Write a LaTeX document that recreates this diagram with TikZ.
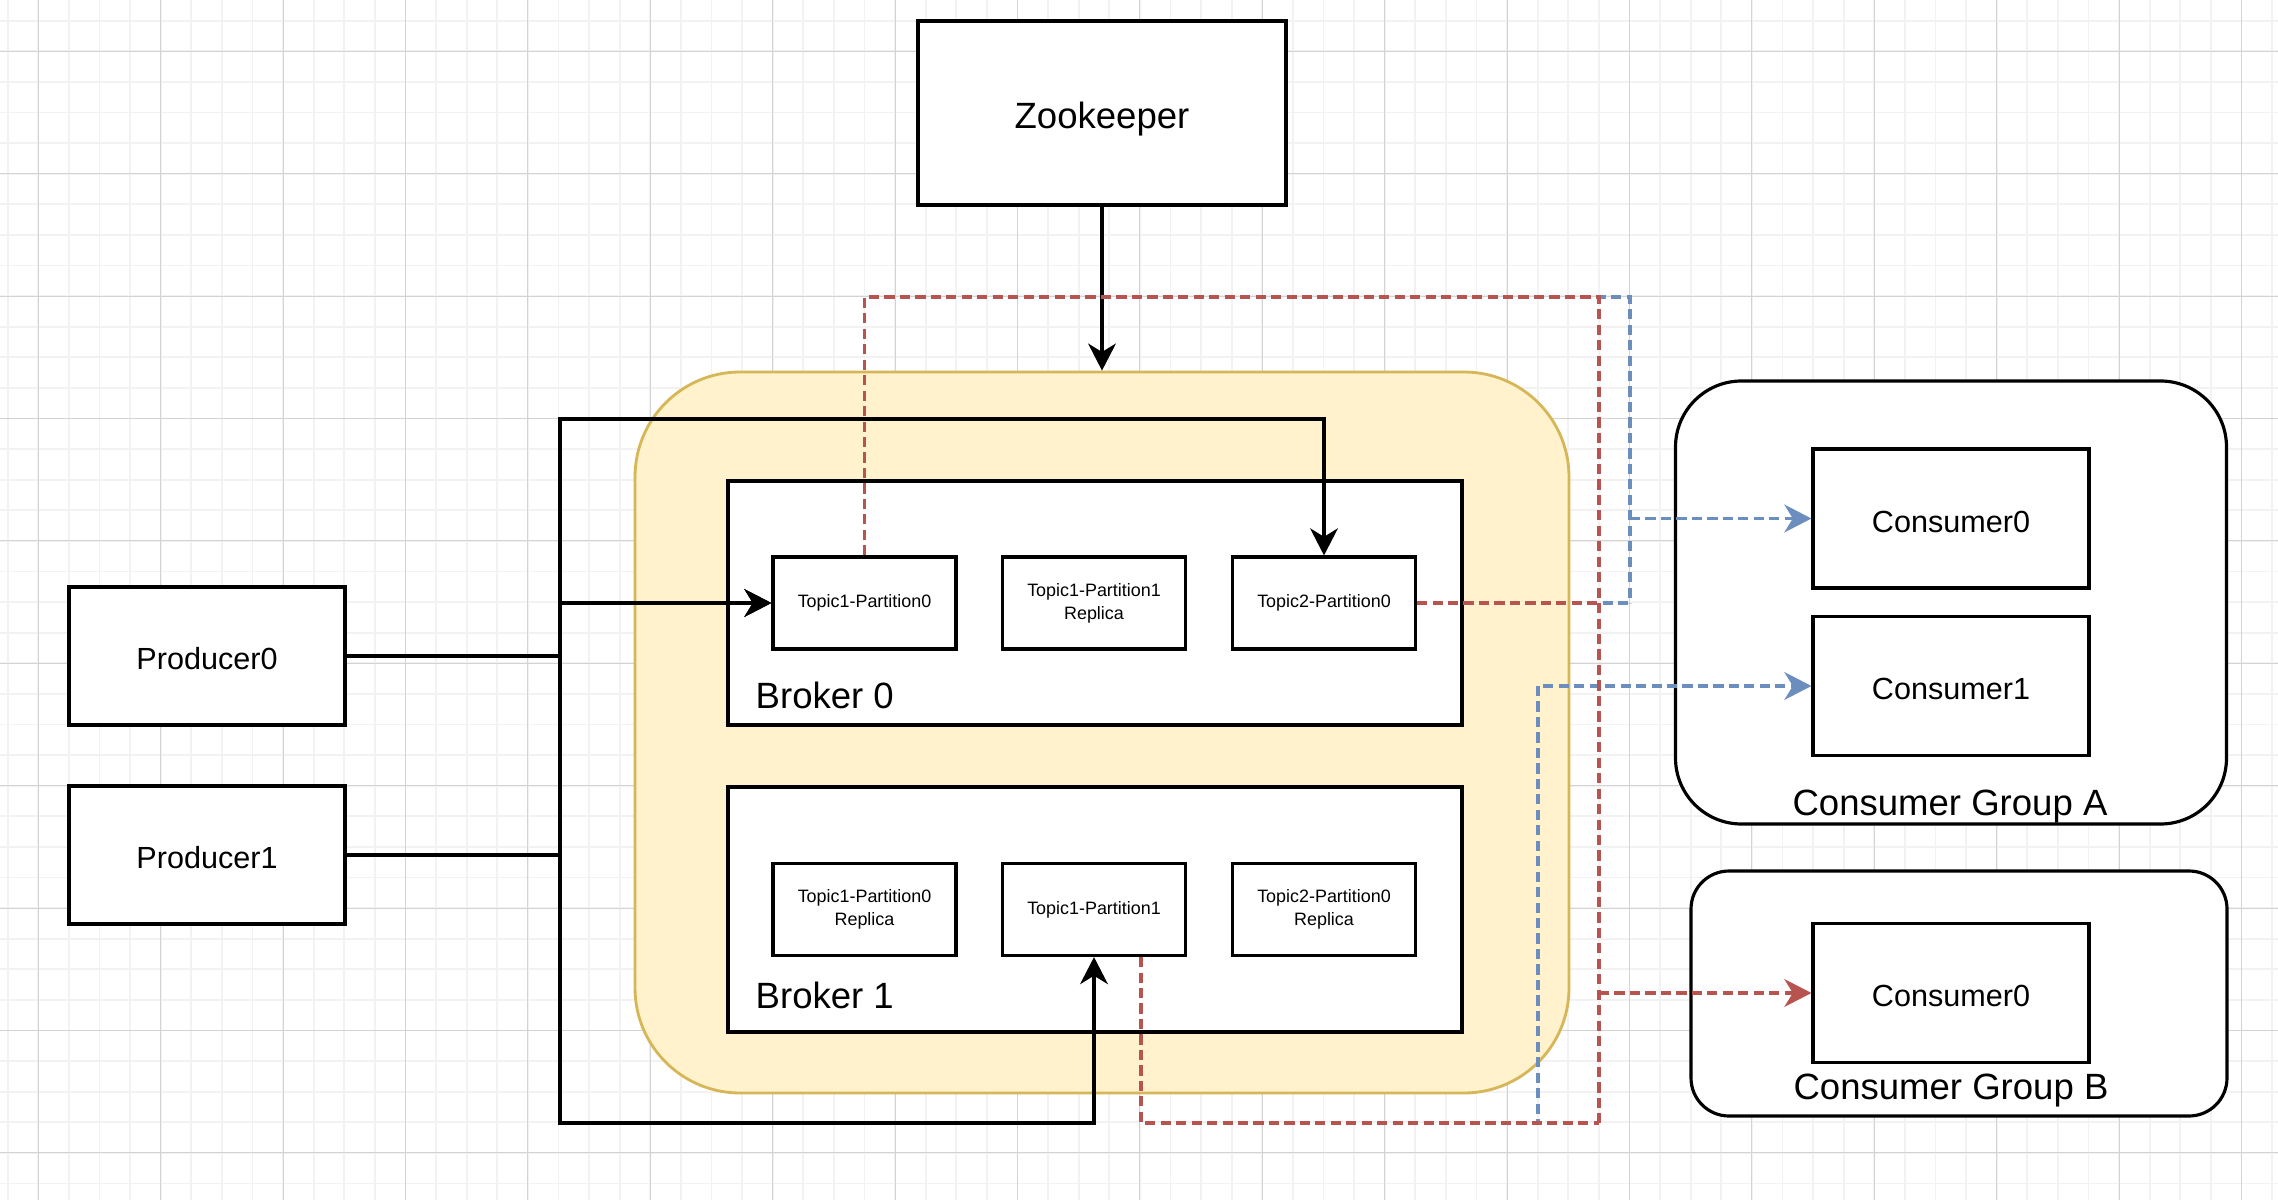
\documentclass[tikz,border=0pt]{standalone}
\usepackage{fontspec}
\setmainfont{Liberation Sans}
\usetikzlibrary{arrows.meta}
\definecolor{gridminor}{HTML}{F2F2F2}
\definecolor{gridmajor}{HTML}{D3D3D3}
\definecolor{clusterfill}{HTML}{FFF2CC}
\definecolor{clusterline}{HTML}{D6B656}
\definecolor{redlink}{HTML}{B85450}
\definecolor{bluelink}{HTML}{6C8EBF}
\newcommand{\largetxt}{\fontsize{10.4}{12.5}\selectfont}
\newcommand{\mediumtxt}{\fontsize{8.7}{10.4}\selectfont}
\newcommand{\smalltxt}{\fontsize{5.1}{6.5}\selectfont}
\tikzset{
  box/.style={draw,line width=0.9pt,fill=white,inner sep=0pt,font=\mediumtxt,text height=7.7pt,text depth=0pt},
  bigbox/.style={box,font=\largetxt,text height=8.8pt},
  topicbox/.style={draw,line width=0.9pt,fill=white,inner sep=0pt,font=\smalltxt,align=center,minimum width=18.3mm,minimum height=9.2mm},
  groupbox/.style={draw,line width=0.9pt,fill=white,inner sep=0pt},
  labeltxt/.style={inner sep=0pt,font=\largetxt,anchor=base},
  tip/.style={-{Stealth[length=7.7pt,width=7.9pt,inset=2.4pt]}},
  link/.style={tip,line width=0.9pt},
  dashlink/.style={line width=0.9pt,dash pattern=on 2.9pt off 1.5pt}
}
\begin{document}
\begin{tikzpicture}[x=0.1mm,y=-0.1mm]
    \useasboundingbox (0,0) rectangle (2278,1200);
    \fill[white] (0,0) rectangle (2278,1200);
    %% Grid
    \foreach \k in {0,...,74}
        \draw[gridminor,line width=0.5pt] ({7.7+30.6*\k},0) -- ({7.7+30.6*\k},1200);
    \foreach \k in {0,...,38}
        \draw[gridminor,line width=0.5pt] (0,{20.7+30.6*\k}) -- (2278,{20.7+30.6*\k});
    \foreach \k in {0,...,18}
        \draw[gridmajor,line width=0.3pt] ({38.3+122.4*\k},0) -- ({38.3+122.4*\k},1200);
    \foreach \k in {0,...,9}
        \draw[gridmajor,line width=0.3pt] (0,{51.3+122.4*\k}) -- (2278,{51.3+122.4*\k});
    %% Objects
    \node[bigbox,minimum width=36.8mm,minimum height=18.4mm] (zk) at (1102,113) {Zookeeper};
    \node[box,minimum width=27.6mm,minimum height=13.8mm] (prod0) at (207,656) {Producer0};
    \node[box,minimum width=27.6mm,minimum height=13.8mm] (prod1) at (207,855) {Producer1};
    \node[draw=clusterline,fill=clusterfill,line width=0.8pt,rounded corners=10.5mm,minimum width=93.4mm,minimum height=72.1mm] (cluster) at (1102,732.5) {};
    \node[groupbox,minimum width=73.4mm,minimum height=24.4mm] (broker0) at (1095,603) {};
    \node[groupbox,minimum width=73.4mm,minimum height=24.5mm] (broker1) at (1095,909.5) {};
    \node[labeltxt,anchor=base west] (b0label) at (755,708) {Broker 0};
    \node[labeltxt,anchor=base west] (b1label) at (755,1008) {Broker 1};
    \node[topicbox] (t1p0) at (864.5,603) {Topic1-Partition0};
    \node[topicbox] (t1p1r) at (1094,603) {Topic1-Partition1\\Replica};
    \node[topicbox] (t2p0) at (1324,603) {Topic2-Partition0};
    \node[topicbox] (t1p0r) at (864.5,909.5) {Topic1-Partition0\\Replica};
    \node[topicbox] (t1p1) at (1094,909.5) {Topic1-Partition1};
    \node[topicbox] (t2p0r) at (1324,909.5) {Topic2-Partition0\\Replica};
    \node[groupbox,rounded corners=6.6mm,minimum width=55.1mm,minimum height=44.3mm] (groupA) at (1951,602.5) {};
    \node[groupbox,rounded corners=3.8mm,minimum width=53.6mm,minimum height=24.5mm] (groupB) at (1959,993.5) {};
    \node[box,minimum width=27.6mm,minimum height=13.9mm] (cons0a) at (1951,518.5) {Consumer0};
    \node[box,minimum width=27.6mm,minimum height=13.9mm] (cons1a) at (1951,686) {Consumer1};
    \node[box,minimum width=27.6mm,minimum height=13.9mm] (cons0b) at (1951,993) {Consumer0};
    \node[labeltxt] (gAlabel) at (1950,815.3) {Consumer Group A};
    \node[labeltxt] (gBlabel) at (1951,1099) {Consumer Group B};
    %% Bends
    \coordinate (busTop) at (560,419);
    \coordinate (busBot) at (560,1123);
    \coordinate (hubTop) at (1599,297);
    \coordinate (hubBot) at (1599,1123);
    \coordinate (blueTop) at (1630,297);
    \coordinate (blueBot) at (1538,1123);
    %% Produce
    \draw[link] (zk.south) -- (cluster.north);
    \draw[link] (prod0.east) -- (prod0.east -| busTop) |- (t1p0.west);
    \draw[link] (prod1.east) -- (prod1.east -| busTop) |- (t1p0.west);
    \draw[link] (prod0.east -| busTop) -- (busTop) -| (t2p0.north);
    \draw[link] (prod1.east -| busBot) -- (busBot) -| (t1p1.south);
    %% Consume (group A)
    \draw[dashlink,bluelink] (t1p0.north) |- (blueTop) -- (blueTop |- t2p0.east);
    \draw[dashlink,bluelink] (t2p0.east) -- (t2p0.east -| blueTop);
    \draw[dashlink,bluelink,tip] (cons0a.west -| blueTop) -- (cons0a.west);
    \draw[dashlink,bluelink,tip] ([xshift=4.7mm]t1p1.south) |- (blueBot) |- (cons1a.west);
    %% Consume (group B)
    \draw[dashlink,redlink] (t1p0.north) |- (hubTop) -- (hubBot);
    \draw[dashlink,redlink] ([xshift=4.7mm]t1p1.south) |- (hubBot);
    \draw[dashlink,redlink] (t2p0.east) -- (t2p0.east -| hubTop);
    \draw[dashlink,redlink,tip] (cons0b.west -| hubTop) -- (cons0b.west);
\end{tikzpicture}
\end{document}
